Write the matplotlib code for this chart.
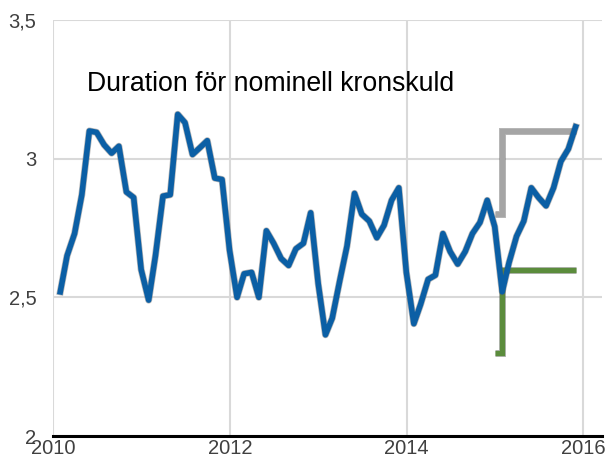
import numpy as np
import pandas as pd
import matplotlib
matplotlib.use("Agg")
import matplotlib.pyplot as plt
import matplotlib.patheffects as pe

plt.rcParams['font.family'] = ['Liberation Sans', 'DejaVu Sans']

# monthly duration, Jan 2010 - Nov 2015 (month-end)
months = pd.date_range("2010-01-31", "2015-11-30", freq="ME")
duration = [2.52, 2.65, 2.73, 2.87, 3.10, 3.095, 3.05, 3.02, 3.045, 2.88, 2.86, 2.60,
            2.49, 2.65, 2.865, 2.87, 3.16, 3.13, 3.015, 3.04, 3.065, 2.93, 2.925, 2.67,
            2.50, 2.585, 2.59, 2.50, 2.74, 2.695, 2.64, 2.615, 2.675, 2.695, 2.805, 2.55,
            2.365, 2.425, 2.56, 2.685, 2.875, 2.80, 2.775, 2.715, 2.76, 2.85, 2.895, 2.59,
            2.405, 2.475, 2.565, 2.58, 2.73, 2.665, 2.62, 2.665, 2.73, 2.77, 2.85, 2.755,
            2.52, 2.625, 2.72, 2.775, 2.895, 2.86, 2.83, 2.895, 2.99, 3.035, 3.115]

# intervall (ovre / undre)
band_dates = pd.to_datetime(["2014-12-31", "2015-01-31", "2015-11-30"])
band_upper = [2.8, 3.1, 3.1]
band_lower = [2.3, 2.6, 2.6]

x_ticks = [2010, 2012, 2014, 2016]
y_ticks = [2.0, 2.5, 3.0, 3.5]
y_ticklabels = ["2", "2,5", "3", "3,5"]
title = "Duration för nominell kronskuld"


def dec_year(d):
    d = pd.DatetimeIndex(d)
    return d.year + (d.dayofyear - 1) / 365.0


fig = plt.figure(figsize=(6.08, 4.59), dpi=100)
ax = fig.add_axes([0.0872, 0.050, 0.9028, 0.9064])

shadow = [pe.Stroke(linewidth=5.0, foreground="#606060", alpha=0.45), pe.Normal()]

ax.plot(dec_year(band_dates), band_upper, drawstyle="steps-post", color="#a5a5a5",
        linewidth=3.8, solid_joinstyle="miter", solid_capstyle="butt", path_effects=shadow, zorder=3)
ax.plot(dec_year(band_dates), band_lower, drawstyle="steps-post", color="#5b8c3c",
        linewidth=3.8, solid_joinstyle="miter", solid_capstyle="butt", path_effects=shadow, zorder=3)
ax.plot(dec_year(months), duration, color="#0b5fa5", linewidth=4.0,
        solid_joinstyle="round", path_effects=shadow, zorder=4)

ax.set_xlim(2010, 2016.21)
ax.set_ylim(2.0, 3.5)
ax.set_xticks(x_ticks)
ax.set_xticklabels([str(t) for t in x_ticks], fontsize=14.5, color="#404040")
ax.set_yticks(y_ticks)
ax.set_yticklabels(y_ticklabels, fontsize=14.5, color="#404040")
ax.tick_params(axis="both", length=0)
ax.tick_params(axis="x", pad=2)
ax.tick_params(axis="y", pad=12)

ax.grid(True, color="#d9d9d9", linewidth=1.5)
ax.set_axisbelow(True)
for s in ["top", "right", "left"]:
    ax.spines[s].set_visible(False)
ax.spines["bottom"].set_color("black")
ax.spines["bottom"].set_linewidth(2.2)
ax.spines["bottom"].set_zorder(5)

ax.text(0.062, 0.829, title, transform=ax.transAxes, fontsize=19.2, color="black",
        ha="left", va="baseline")

fig.savefig("out.png", dpi=100)
